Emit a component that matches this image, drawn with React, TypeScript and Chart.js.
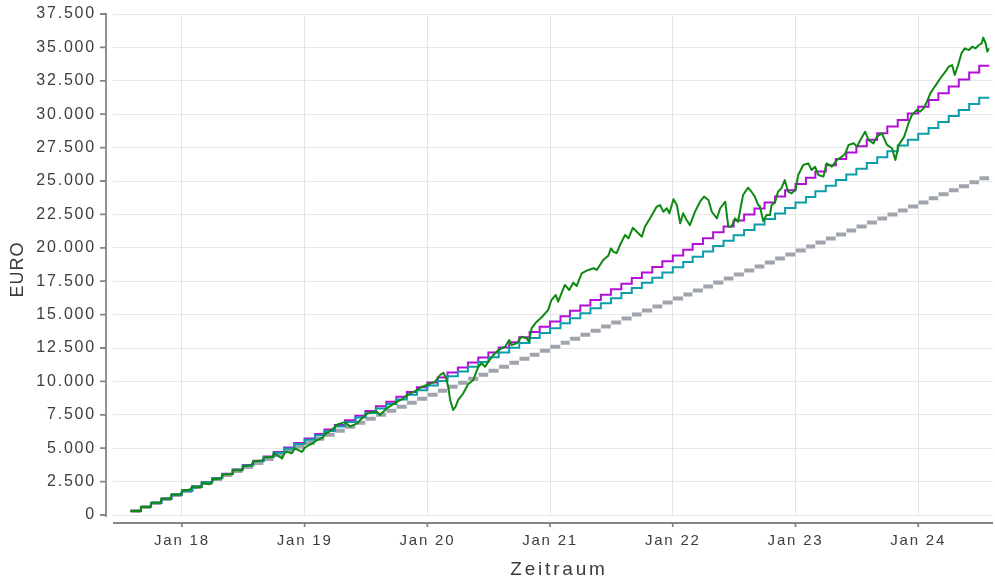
import React, { useEffect, useRef } from "react";
import { Chart, registerables } from "chart.js";

Chart.register(...registerables);

// ---- DATA ----
const firstDepositMonth = "2017-08"; // month of first deposit
const seriesEnd = "2024-07-31";

// cumulative deposits (EUR), one value per month from Aug 2017 to Jul 2024
const deposits = [
  300, 600, 900, 1200, 1500, 1800, 2100, 2400, 2700, 3000, 3300, 3600,
  3900, 4200, 4500, 4800, 5100, 5400, 5700, 6000, 6300, 6600, 6900, 7200,
  7500, 7800, 8100, 8400, 8700, 9000, 9300, 9600, 9900, 10200, 10500, 10800,
  11100, 11400, 11700, 12000, 12300, 12600, 12900, 13200, 13500, 13800, 14100, 14400,
  14700, 15000, 15300, 15600, 15900, 16200, 16500, 16800, 17100, 17400, 17700, 18000,
  18300, 18600, 18900, 19200, 19500, 19800, 20100, 20400, 20700, 21000, 21300, 21600,
  21900, 22200, 22500, 22800, 23100, 23400, 23700, 24000, 24300, 24600, 24900, 25200,
];

// savings plan with ~6 % p.a. (teal)
const plan6 = [
  300, 602, 905, 1209, 1515, 1823, 2132, 2443, 2755, 3069, 3384, 3701,
  4019, 4339, 4661, 4984, 5309, 5636, 5964, 6294, 6625, 6958, 7293, 7630,
  7968, 8308, 8649, 8992, 9337, 9684, 10032, 10383, 10734, 11088, 11444, 11801,
  12160, 12521, 12883, 13248, 13614, 13982, 14352, 14724, 15097, 15473, 15850, 16229,
  16610, 16994, 17379, 17765, 18154, 18545, 18938, 19332, 19729, 20128, 20528, 20931,
  21336, 21742, 22151, 22562, 22975, 23390, 23806, 24225, 24647, 25070, 25495, 25923,
  26352, 26784, 27218, 27654, 28092, 28533, 28975, 29420, 29867, 30317, 30768, 31222,
];

// savings plan with ~8 % p.a. (purple)
const plan8 = [
  300, 602, 906, 1212, 1520, 1830, 2142, 2457, 2773, 3092, 3412, 3735,
  4060, 4387, 4716, 5048, 5381, 5717, 6055, 6396, 6738, 7083, 7430, 7780,
  8132, 8486, 8843, 9202, 9563, 9927, 10293, 10661, 11033, 11406, 11782, 12161,
  12542, 12925, 13312, 13700, 14092, 14486, 14882, 15281, 15683, 16088, 16495, 16905,
  17318, 17733, 18151, 18572, 18996, 19423, 19852, 20285, 20720, 21158, 21599, 22043,
  22490, 22940, 23393, 23849, 24308, 24770, 25235, 25703, 26175, 26649, 27127, 27608,
  28092, 28579, 29070, 29563, 30061, 30561, 31065, 31572, 32082, 32596, 33113, 33634,
];

// portfolio value (EUR)
const portfolioDates = [
  "2017-08-01", "2017-08-30", "2017-09-01", "2017-09-29", "2017-10-02", "2017-10-30",
  "2017-11-01", "2017-11-29", "2017-12-01", "2017-12-29", "2018-01-02", "2018-01-26",
  "2018-02-01", "2018-02-09", "2018-02-27", "2018-03-01", "2018-03-23", "2018-03-29",
  "2018-04-02", "2018-04-27", "2018-05-02", "2018-05-30", "2018-06-01", "2018-06-28",
  "2018-07-02", "2018-07-27", "2018-08-01", "2018-08-29", "2018-09-03", "2018-09-28",
  "2018-10-01", "2018-10-26", "2018-11-01", "2018-11-08", "2018-11-23", "2018-12-03",
  "2018-12-24", "2019-01-02", "2019-01-14", "2019-01-25", "2019-02-04", "2019-02-24",
  "2019-03-04", "2019-03-11", "2019-03-26", "2019-04-10", "2019-05-01", "2019-05-16",
  "2019-06-06", "2019-06-30", "2019-07-15", "2019-08-04", "2019-08-13", "2019-09-03",
  "2019-09-20", "2019-10-03", "2019-10-20", "2019-11-02", "2019-11-20", "2019-12-02",
  "2019-12-16", "2019-12-31", "2020-01-24", "2020-02-08", "2020-02-18", "2020-02-26",
  "2020-03-04", "2020-03-09", "2020-03-18", "2020-03-25", "2020-04-02", "2020-04-17",
  "2020-05-02", "2020-05-17", "2020-06-01", "2020-06-11", "2020-06-21", "2020-07-01",
  "2020-07-16", "2020-07-31", "2020-08-20", "2020-09-01", "2020-09-08", "2020-09-23",
  "2020-10-08", "2020-10-23", "2020-10-30", "2020-11-07", "2020-11-22", "2020-12-07",
  "2020-12-26", "2021-01-05", "2021-01-18", "2021-01-25", "2021-02-14", "2021-02-27",
  "2021-03-11", "2021-03-21", "2021-04-05", "2021-04-20", "2021-05-10", "2021-05-20",
  "2021-06-08", "2021-06-23", "2021-07-01", "2021-07-08", "2021-07-18", "2021-07-28",
  "2021-08-12", "2021-08-22", "2021-09-04", "2021-09-16", "2021-10-01", "2021-10-10",
  "2021-10-25", "2021-11-14", "2021-11-24", "2021-12-04", "2021-12-14", "2021-12-22",
  "2022-01-03", "2022-01-13", "2022-01-23", "2022-02-01", "2022-02-11", "2022-02-21",
  "2022-03-08", "2022-03-23", "2022-04-04", "2022-04-17", "2022-04-27", "2022-05-12",
  "2022-05-22", "2022-06-06", "2022-06-15", "2022-06-25", "2022-07-05", "2022-07-14",
  "2022-07-29", "2022-08-13", "2022-08-23", "2022-09-02", "2022-09-12", "2022-09-17",
  "2022-09-27", "2022-10-07", "2022-10-17", "2022-10-22", "2022-11-01", "2022-11-10",
  "2022-11-20", "2022-11-30", "2022-12-10", "2022-12-20", "2023-01-01", "2023-01-09",
  "2023-01-24", "2023-02-08", "2023-02-18", "2023-02-28", "2023-03-10", "2023-03-25",
  "2023-04-04", "2023-04-19", "2023-05-04", "2023-05-19", "2023-05-29", "2023-06-08",
  "2023-06-23", "2023-07-03", "2023-07-13", "2023-07-27", "2023-08-06", "2023-08-21",
  "2023-08-31", "2023-09-15", "2023-09-30", "2023-10-15", "2023-10-25", "2023-11-04",
  "2023-11-20", "2023-12-03", "2023-12-13", "2023-12-28", "2024-01-07", "2024-01-17",
  "2024-01-27", "2024-02-06", "2024-02-16", "2024-02-26", "2024-03-07", "2024-03-22",
  "2024-04-01", "2024-04-11", "2024-04-19", "2024-04-29", "2024-05-09", "2024-05-19",
  "2024-05-31", "2024-06-10", "2024-06-20", "2024-06-30", "2024-07-08", "2024-07-13",
  "2024-07-20", "2024-07-25", "2024-07-30",
];
const portfolioValues = [
  300, 302, 602, 608, 908, 925,
  1225, 1232, 1532, 1540, 1840, 1900,
  2170, 2040, 2110, 2400, 2310, 2360,
  2650, 2730, 3030, 3070, 3370, 3340,
  3640, 3720, 4010, 4080, 4330, 4330,
  4630, 4240, 4560, 4740, 4610, 4990,
  4720, 5040, 5240, 5370, 5560, 5800,
  6100, 6160, 6450, 6800, 6950, 6620,
  6860, 7480, 7700, 7740, 7480, 7990,
  8280, 8480, 8700, 8980, 9200, 9360,
  9600, 9730, 9980, 10480, 10650, 10230,
  9480, 8610, 7860, 8100, 8610, 9110,
  9800, 10110, 11100, 11360, 11100, 11480,
  11980, 12350, 12600, 13100, 12720, 12850,
  13350, 13220, 12970, 13980, 14470, 14800,
  15340, 16090, 16470, 15970, 17220, 16840,
  17390, 17140, 18090, 18290, 18470, 18340,
  19090, 19400, 19950, 19720, 19600, 20210,
  20960, 20710, 21500, 21200, 20830, 21580,
  22200, 23080, 23200, 22700, 22960, 22580,
  23630, 23200, 21830, 22580, 22080, 21700,
  22700, 23450, 23830, 23580, 22700, 22200,
  22960, 23450, 21580, 21600, 22200, 21950,
  23950, 24500, 24200, 23830, 23200, 23100,
  22000, 22450, 22450, 23200, 23400, 24200,
  24450, 25070, 24200, 24080, 24330, 25450,
  26200, 26320, 25820, 26070, 25450, 25330,
  26320, 26070, 26570, 26820, 27070, 27700,
  27820, 27570, 28070, 28690, 28070, 27820,
  28320, 28570, 27700, 27450, 26570, 27700,
  28300, 29320, 29940, 30310, 30190, 30440,
  30940, 31560, 31940, 32310, 32690, 33180,
  33560, 33680, 32930, 33680, 34560, 34930,
  34800, 35050, 34930, 35180, 35300, 35730,
  35300, 34680, 34930,
];

const xTickYears = [2018, 2019, 2020, 2021, 2022, 2023, 2024];
const xRange = ["2017-06-10", "2024-08-11"];
const yMax = 37500;
const yStep = 2500;

// ---- helpers ----
function toYear(s: string): number {
  const [y, m, d] = s.split("-").map(Number);
  const a = Date.UTC(y, 0, 1);
  const b = Date.UTC(y + 1, 0, 1);
  return y + (Date.UTC(y, m - 1, d || 1) - a) / (b - a);
}
function monthStarts(n: number): number[] {
  const [y0, m0] = firstDepositMonth.split("-").map(Number);
  const out: number[] = [];
  for (let i = 0; i < n; i++) {
    const t = m0 - 1 + i;
    const y = y0 + Math.floor(t / 12);
    const m = (t % 12) + 1;
    out.push(toYear(`${y}-${String(m).padStart(2, "0")}-01`));
  }
  return out;
}
function fmt(v: number): string {
  return String(Math.round(v)).replace(/\B(?=(\d{3})+(?!\d))/g, ".");
}
function patchTitle(scale: any, spacing: string, dx: number, dy: number) {
  if (scale.__patchedTitle) return;
  const orig = scale.drawTitle;
  scale.drawTitle = function (...args: any[]) {
    const c = this.ctx;
    const prev = c.letterSpacing;
    c.save();
    c.translate(dx, dy);
    try { c.letterSpacing = spacing; } catch (e) {}
    orig.apply(this, args);
    try { c.letterSpacing = prev; } catch (e) {}
    c.restore();
  };
  scale.__patchedTitle = true;
}

const axisPlugin = {
  id: "offsetAxes",
  beforeDraw(chart: any) {
    try {
      chart.ctx.letterSpacing = "1.8px";
    } catch (e) {}
  },
  afterDraw(chart: any) {
    const { ctx, chartArea: a, scales } = chart;
    const x = scales.x;
    const y = scales.y;
    ctx.save();
    ctx.strokeStyle = "#858585";
    ctx.lineWidth = 1.8;
    ctx.beginPath();
    const ax = a.left - 7;
    ctx.moveTo(ax, a.top - 1);
    ctx.lineTo(ax, a.bottom + 2);
    y.ticks.forEach((t: any) => {
      const py = y.getPixelForValue(t.value);
      ctx.moveTo(ax - 6, py);
      ctx.lineTo(ax, py);
    });
    const ay = a.bottom + 8;
    ctx.moveTo(a.left, ay);
    ctx.lineTo(a.right, ay);
    x.ticks.forEach((t: any) => {
      const px = x.getPixelForValue(t.value);
      ctx.moveTo(px, ay);
      ctx.lineTo(px, ay + 4);
    });
    ctx.stroke();
    ctx.restore();
  },
};

export default function App() {
  const ref = useRef<HTMLCanvasElement>(null);

  useEffect(() => {
    document.body.style.margin = "0";
    const canvas = ref.current;
    if (!canvas) return;

    const starts = monthStarts(deposits.length);
    const endX = toYear(seriesEnd);
    const stepData = (vals: number[]) => {
      const pts = vals.map((v, i) => ({ x: starts[i], y: v }));
      pts.push({ x: endX, y: vals[vals.length - 1] });
      return pts;
    };
    const dayInYears = 1 / 365.25;
    const dashData: any[] = [];
    deposits.forEach((v, i) => {
      const s = starts[i];
      const e = i + 1 < starts.length ? starts[i + 1] : endX;
      dashData.push({ x: s + 0.6 * dayInYears, y: v });
      dashData.push({ x: e - 0.6 * dayInYears, y: v });
      dashData.push({ x: e, y: null });
    });
    const greenData = portfolioDates.map((d, i) => ({ x: toYear(d), y: portfolioValues[i] }));

    const font = "'Liberation Sans', Arial, Helvetica, sans-serif";

    const chart = new Chart(canvas, {
      type: "line",
      data: {
        datasets: [
          {
            label: "Depot",
            data: greenData,
            borderColor: "#0e8a12",
            borderWidth: 2,
            pointRadius: 0,
            tension: 0,
            borderJoinStyle: "round",
          },
          {
            label: "6 %",
            data: stepData(plan6),
            borderColor: "#0b9ea8",
            borderWidth: 2,
            pointRadius: 0,
            stepped: "before",
          },
          {
            label: "8 %",
            data: stepData(plan8),
            borderColor: "#b20ed8",
            borderWidth: 2,
            pointRadius: 0,
            stepped: "before",
          },
          {
            label: "Einzahlungen",
            data: dashData,
            borderColor: "#a0a4ad",
            borderWidth: 4,
            pointRadius: 0,
            borderCapStyle: "butt",
            spanGaps: false,
          },
        ],
      },
      options: {
        animation: false,
        responsive: false,
        devicePixelRatio: 1,
        parsing: false as any,
        normalized: true,
        layout: { padding: { top: 14, right: 2, left: 0, bottom: 0 } },
        plugins: { legend: { display: false }, tooltip: { enabled: false } },
        scales: {
          x: {
            type: "linear",
            min: toYear(xRange[0]),
            max: toYear(xRange[1]),
            afterBuildTicks: (scale: any) => {
              scale.ticks = xTickYears.map((v) => ({ value: v }));
            },
            afterFit: (scale: any) => {
              scale.height = 67;
              scale.paddingLeft = 0;
              scale.paddingRight = 0;
              patchTitle(scale, "2.8px", 6, 0);
            },
            grid: { color: "#e4e4e6", lineWidth: 1, drawTicks: false },
            border: { display: false },
            ticks: {
              padding: 17,
              color: "#3d3d3d",
              font: { family: font, size: 15 },
              maxRotation: 0,
              autoSkip: false,
              callback: (v: any) => "Jan " + String(v).slice(2),
            },
            title: {
              display: true,
              text: "Zeitraum",
              color: "#3a3a3a",
              font: { family: font, size: 19 },
              padding: { top: 0, bottom: 1 },
            },
          },
          y: {
            type: "linear",
            min: 0,
            max: yMax,
            afterFit: (scale: any) => {
              scale.width = 113;
              scale.paddingTop = 0;
              scale.paddingBottom = 0;
              patchTitle(scale, "1px", 0, 5);
            },
            grid: { color: "#e8e8e8", lineWidth: 1, drawTicks: false },
            border: { display: false },
            ticks: {
              stepSize: yStep,
              padding: 17,
              color: "#3d3d3d",
              font: { family: font, size: 16 },
              callback: (v: any) => fmt(Number(v)),
            },
            title: {
              display: true,
              text: "EURO",
              color: "#3a3a3a",
              font: { family: font, size: 18 },
              padding: { top: 7, bottom: 0 },
            },
          },
        },
      },
      plugins: [axisPlugin],
    } as any);

    return () => chart.destroy();
  }, []);

  return (
    <div style={{ width: 995, height: 582 }}>
      <canvas ref={ref} width={995} height={582} style={{ display: "block" }} />
    </div>
  );
}
